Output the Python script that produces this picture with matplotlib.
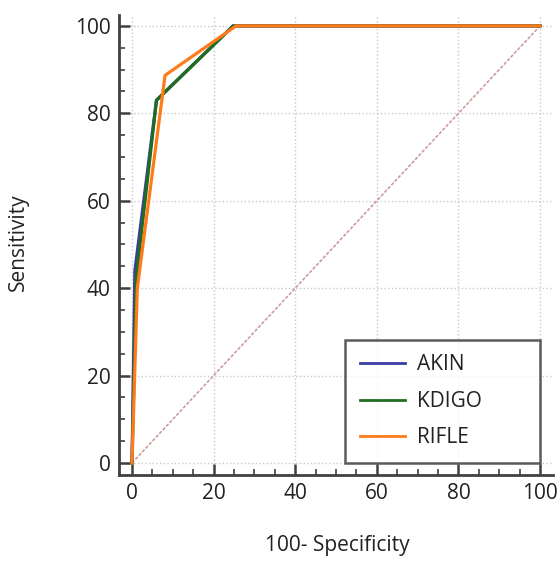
import matplotlib
matplotlib.use("Agg")
import matplotlib.pyplot as plt
from matplotlib.ticker import MultipleLocator

plt.rcParams['font.family'] = ['Open Sans', 'DejaVu Sans']

# Data (100 - specificity, sensitivity)
akin_x = [0, 0.7, 6.0, 24.8, 100]
akin_y = [0, 44, 83, 100, 100]
kdigo_x = [0, 1.0, 6.0, 24.8, 100]
kdigo_y = [0, 42, 83, 100, 100]
rifle_x = [0, 1.3, 8.1, 25.5, 100]
rifle_y = [0, 40, 88.7, 100, 100]
ref_x = [0, 100]
ref_y = [0, 100]

names = ["AKIN", "KDIGO", "RIFLE"]
colors = ["#3b3ba6", "#1f6e1f", "#ff7a1a"]

FS = 15

fig = plt.figure(figsize=(5.6, 5.61), dpi=100)
ax = fig.add_axes([119/560, 1-475/561, (553-119)/560, (475-15)/561])

ax.grid(True, which='major', color='#c8c8c8', linestyle=':', linewidth=1.0)
ax.plot(ref_x, ref_y, color='#d09a9a', linewidth=1.2, linestyle=(0, (2, 1)))
for xs, ys, n, c in zip([akin_x, kdigo_x, rifle_x], [akin_y, kdigo_y, rifle_y], names, colors):
    ax.plot(xs, ys, color=c, linewidth=2.3, label=n, solid_joinstyle='miter')

ax.set_xlim(-3.19, 103.19)
ax.set_ylim(-2.75, 102.5)
ax.xaxis.set_major_locator(MultipleLocator(20))
ax.yaxis.set_major_locator(MultipleLocator(20))
ax.xaxis.set_minor_locator(MultipleLocator(5))
ax.yaxis.set_minor_locator(MultipleLocator(5))
ax.tick_params(which='major', direction='in', length=8, width=1.8, color='#404040', labelsize=FS, pad=6)
ax.tick_params(which='minor', direction='in', length=4, width=1.2, color='#404040')
for s in ['top', 'right']:
    ax.spines[s].set_visible(False)
for s in ['left', 'bottom']:
    ax.spines[s].set_linewidth(2.0)
    ax.spines[s].set_color('#404040')
for t in ax.get_xticklabels() + ax.get_yticklabels():
    t.set_color('#222222')

fig.text(337/560, 1-546/561, "100- Specificity", fontsize=FS, ha='center', va='center', color='#222222')
fig.text(18/560, 1-242/561, "Sensitivity", rotation=90, fontsize=FS, ha='center', va='center', color='#222222')

x0 = (345 - 119) / 434
w = (540 - 345) / 434
leg = ax.legend(loc='lower left', bbox_to_anchor=(x0, 0.026, w, 0.3), mode='expand', fontsize=FS,
                handlelength=2.15, handletextpad=0.6, labelspacing=0.74,
                borderpad=0.71, borderaxespad=0, fancybox=False, frameon=True)
leg.get_frame().set_edgecolor('#333333')
leg.get_frame().set_linewidth(1.8)
for t in leg.get_texts():
    t.set_color('#222222')
for l in leg.get_lines():
    l.set_linewidth(2.0)

fig.savefig("out.png", dpi=100)
